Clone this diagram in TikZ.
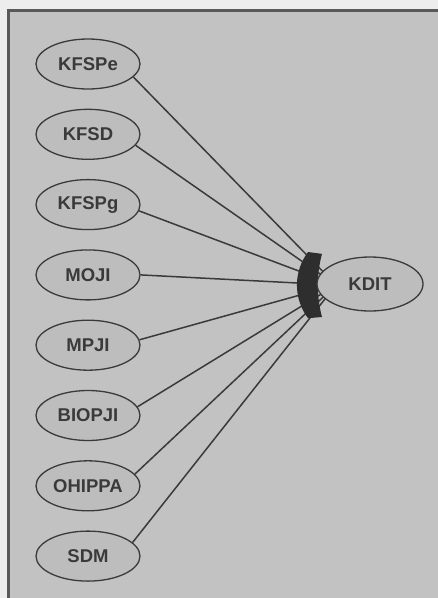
\documentclass[tikz,border=0pt]{standalone}
\usepackage{fontspec}
\setmainfont{Liberation Sans}
\usetikzlibrary{positioning,shapes.geometric}
\definecolor{pagegray}{HTML}{EDEDED}
\definecolor{panelgray}{HTML}{C2C2C2}
\definecolor{nodegray}{HTML}{BDBDBD}
\definecolor{inkgray}{HTML}{3A3A3A}

\begin{document}
\begin{tikzpicture}[
  x=1pt, y=1pt,
  font=\bfseries\fontsize{18.5}{20}\selectfont,
  factor/.style={ellipse, draw=inkgray, line width=1.3pt, fill=nodegray,
    text=inkgray, minimum width=104pt, minimum height=50pt, inner sep=0pt},
  link/.style={draw=inkgray, line width=1.5pt}
]
\useasboundingbox (0,0) rectangle (438,-598);
\fill[pagegray] (0,0) rectangle (438,-598);
\filldraw[fill=panelgray, draw=black!65, line width=2.5pt] (8.5,-10.5) rectangle (450,-612);

\coordinate (hub) at (336,-285);

% input factors, one column
\node[factor] (kfspe) at (88,-64) {KFSPe};
\node[factor, below=19pt of kfspe] (kfsd) {KFSD};
\node[factor, below=19pt of kfsd] (kfspg) {KFSPg};
\node[factor, below=19pt of kfspg] (moji) {MOJI};
\node[factor, below=19pt of moji] (mpji) {MPJI};
\node[factor, below=19pt of mpji] (biopji) {BIOPJI};
\node[factor, below=19pt of biopji] (ohippa) {OHIPPA};
\node[factor, below=19pt of ohippa] (sdm) {SDM};

\draw[link] (kfspe.-16) -- (hub);
\draw[link] (kfsd.-13) -- (hub);
\draw[link] (kfspg.-7) -- (hub);
\draw[link] (moji.east) -- (hub);
\draw[link] (mpji.6) -- (hub);
\draw[link] (biopji.10) -- (hub);
\draw[link] (ohippa.14) -- (hub);
\draw[link] (sdm.17) -- (hub);

% join marker
\fill[inkgray!80!black] (308,-252) arc[start angle=143, end angle=217, radius=55]
  -- (322,-317) arc[start angle=195, end angle=165, radius=122] -- cycle;

\node[factor, minimum width=106pt, minimum height=54pt] (kdit) at (370,-284) {KDIT};
\end{tikzpicture}
\end{document}
